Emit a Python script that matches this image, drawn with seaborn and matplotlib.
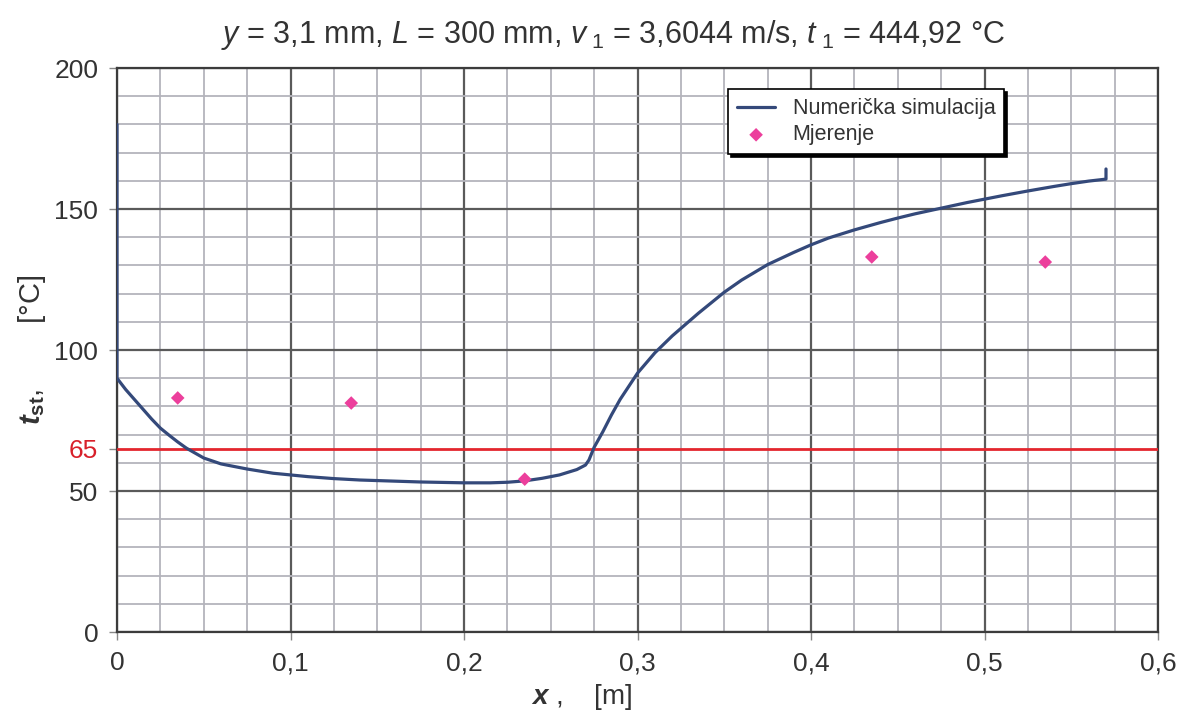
import matplotlib
matplotlib.use("Agg")
import matplotlib.pyplot as plt
import seaborn as sns
from matplotlib.ticker import MultipleLocator, FuncFormatter

# numerical simulation curve (x in m, wall temperature in °C)
x_sim = [0.0, 0.0, 0.005, 0.01, 0.015, 0.02, 0.025, 0.03, 0.035, 0.04, 0.05,
         0.06, 0.075, 0.09, 0.10, 0.11, 0.125, 0.14, 0.15, 0.175, 0.20, 0.215,
         0.225, 0.235, 0.245, 0.255, 0.265, 0.27, 0.272, 0.275, 0.28, 0.285,
         0.29, 0.30, 0.31, 0.32, 0.335, 0.35, 0.36, 0.375, 0.39, 0.40, 0.41,
         0.425, 0.44, 0.45, 0.46, 0.475, 0.49, 0.50, 0.51, 0.525, 0.54, 0.55,
         0.56, 0.57, 0.57]
t_sim = [180.0, 90.0, 86.0, 82.5, 79.0, 75.5, 72.3, 69.8, 67.4, 65.2, 61.7,
         59.6, 57.8, 56.3, 55.7, 55.1, 54.4, 53.9, 53.7, 53.2, 52.9, 52.9,
         53.1, 53.6, 54.5, 55.7, 57.6, 59.2, 61.0, 65.5, 71.0, 77.0,
         82.5, 91.8, 99.0, 105.0, 113.0, 120.5, 124.8, 130.3, 134.6, 137.3, 139.7,
         142.6, 145.2, 146.8, 148.3, 150.3, 152.3, 153.5, 154.7, 156.4, 158.0, 159.0,
         159.9, 160.6, 164.2]

# measurements
x_meas = [0.035, 0.135, 0.235, 0.435, 0.535]
t_meas = [83.0, 81.2, 54.2, 133.0, 131.2]

limit_temp = 65
y_ticks = [0, 50, 65, 100, 150, 200]
x_ticks = [0, 0.1, 0.2, 0.3, 0.4, 0.5, 0.6]

sns.set_style("white")
plt.rcParams["font.family"] = ["Liberation Sans", "DejaVu Sans"]
plt.rcParams["mathtext.fontset"] = "custom"
plt.rcParams["mathtext.rm"] = "Liberation Sans"
plt.rcParams["mathtext.it"] = "Liberation Sans:italic"
plt.rcParams["mathtext.bf"] = "Liberation Sans:bold"
plt.rcParams["mathtext.bfit"] = "Liberation Sans:italic:bold"

text_col = "#333333"
fig = plt.figure(figsize=(11.77, 7.13), dpi=100)
ax = fig.add_axes([0.0994, 0.1136, 0.8845, 0.791])

ax.axhline(limit_temp, color="#e3262e", lw=2, zorder=3)
sns.lineplot(x=x_sim, y=t_sim, sort=False, estimator=None, color="#34497a",
             lw=2.3, label="Numerička simulacija", ax=ax, zorder=4)
sns.scatterplot(x=x_meas, y=t_meas, marker="D", s=48, color="#ec3f9c",
                edgecolor="none", label="Mjerenje", ax=ax, zorder=5)

ax.set_xlim(0, 0.6)
ax.set_ylim(0, 200)
ax.set_xticks(x_ticks)
ax.set_yticks(y_ticks)
ax.xaxis.set_minor_locator(MultipleLocator(0.025))
ax.yaxis.set_minor_locator(MultipleLocator(10))
fmt = FuncFormatter(lambda v, p: f"{v:g}".replace(".", ","))
ax.xaxis.set_major_formatter(fmt)
ax.yaxis.set_major_formatter(fmt)

ax.grid(which="major", color="#5a5a5a", lw=1.6)
ax.grid(which="minor", color="#b4b4bc", lw=1.3)
ax.get_ygridlines()[2].set_visible(False)
ax.set_axisbelow(True)

ax.tick_params(axis="both", which="major", labelsize=19, labelcolor=text_col,
               length=6, width=1, color="#888888", left=True, bottom=True)
ax.tick_params(axis="y", pad=7.5)
ax.tick_params(axis="x", pad=8)
ax.tick_params(which="minor", length=0)
ax.get_yticklabels()[2].set_color("#d8202a")

for s in ax.spines.values():
    s.set_color("#3c3c3c")
    s.set_linewidth(1.6)
    s.set_visible(True)

ax.set_ylabel(r"$\mathbfit{t}_{\mathbf{st}}$,        [°C]", fontsize=21, color=text_col)
ax.yaxis.set_label_coords(-0.066, 0.5)
ax.set_xlabel(r"$\mathbfit{x}$ ,    [m]", fontsize=20, color=text_col)
ax.xaxis.set_label_coords(0.446, -0.088)

fig.text(0.521, 0.951,
         r"$\mathit{y}$ = 3,1 mm, $\mathit{L}$ = 300 mm, $\mathit{v}_{\ 1}$ = 3,6044 m/s, $\mathit{t}_{\ 1}$ = 444,92 °C",
         ha="center", va="center", fontsize=22, color=text_col)

leg = ax.legend(loc="upper left", bbox_to_anchor=(0.587, 0.962), fontsize=15.5,
                frameon=True, fancybox=False, shadow={"color": "black", "alpha": 1},
                borderpad=0.4, handlelength=1.8, labelspacing=0.25, borderaxespad=0)
leg.get_frame().set_edgecolor("black")
leg.get_frame().set_linewidth(1.2)
for t in leg.get_texts():
    t.set_color(text_col)

plt.savefig("out.png", dpi=100)
plt.close()
